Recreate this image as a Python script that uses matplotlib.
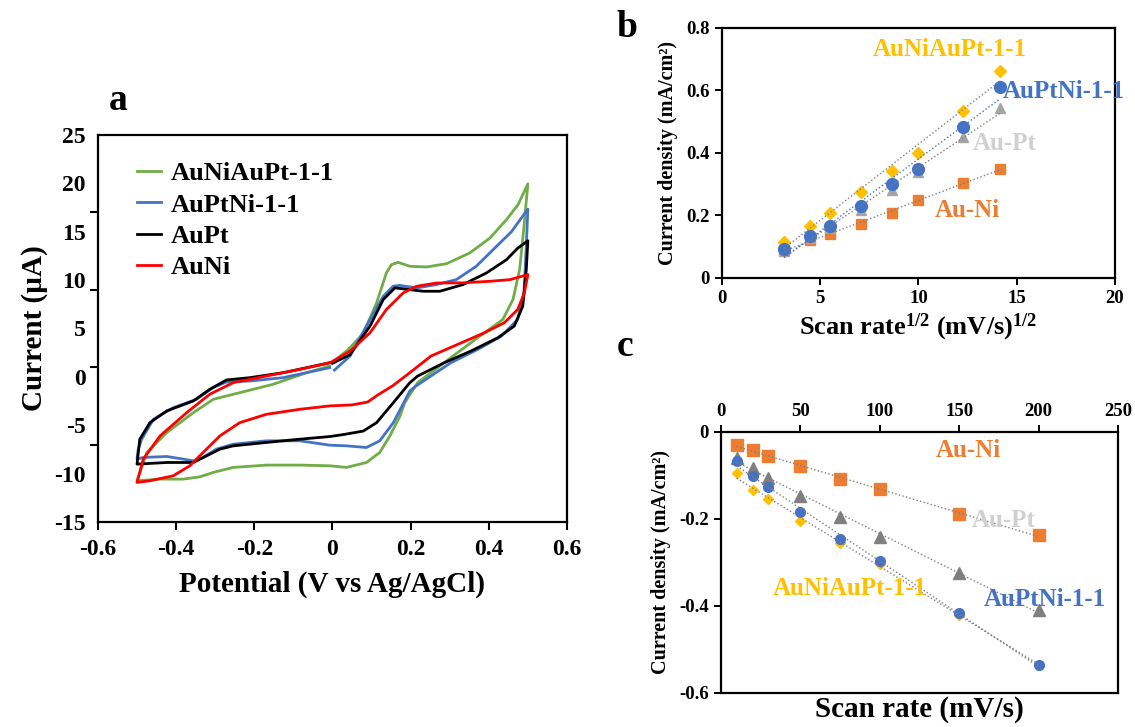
import numpy as np
import matplotlib
matplotlib.use('Agg')
import matplotlib.pyplot as plt

plt.rcParams['font.family'] = ['Liberation Serif', 'DejaVu Serif']
plt.rcParams['font.weight'] = 'bold'
plt.rcParams['axes.labelweight'] = 'bold'
plt.rcParams['axes.unicode_minus'] = False
plt.rcParams['mathtext.fontset'] = 'custom'
plt.rcParams['mathtext.rm'] = 'Liberation Serif:bold'
plt.rcParams['mathtext.bf'] = 'Liberation Serif:bold'
plt.rcParams['mathtext.default'] = 'bf'

# ---- panel a: cyclic voltammograms (V vs Ag/AgCl, uA) ----
green_E = [0.0, 0.04, 0.079, 0.113, 0.138, 0.151, 0.168, 0.198, 0.241, 0.292, 0.351, 0.403, 0.445, 0.475, 0.5,
           0.49, 0.479, 0.462, 0.436, 0.389, 0.32, 0.252, 0.218, 0.185, 0.173, 0.147, 0.121, 0.087, 0.036, -0.007,
           -0.083, -0.169, -0.254, -0.305, -0.339, -0.382, -0.441, -0.5,
           -0.475, -0.424, -0.356, -0.305, -0.237, -0.152, -0.066, -0.007]
green_I = [1.5, 2.8, 4.5, 7.65, 10.74, 11.6, 11.84, 11.43, 11.36, 11.7, 12.8, 14.35, 16.24, 17.8, 19.95,
           15.5, 11.1, 8.0, 5.93, 4.56, 2.5, 0.43, -0.6, -2.66, -4.04, -6.1, -7.82, -8.85, -9.36, -9.19,
           -9.12, -9.12, -9.36, -9.88, -10.33, -10.57, -10.57, -10.74,
           -7.82, -5.76, -3.7, -2.32, -1.63, -0.77, 0.43, 1.12]

blue_E = [0.005, 0.045, 0.096, 0.13, 0.155, 0.172, 0.215, 0.266, 0.317, 0.368, 0.42, 0.458, 0.474, 0.5,
          0.496, 0.49, 0.474, 0.432, 0.372, 0.303, 0.214, 0.198, 0.156, 0.121, 0.087, 0.036, -0.007,
          -0.083, -0.169, -0.254, -0.297, -0.331, -0.356, -0.382, -0.424, -0.484, -0.5,
          -0.497, -0.488, -0.458, -0.407, -0.348, -0.305, -0.271, -0.211, -0.126, -0.007]
blue_I = [0.7, 2.15, 5.93, 8.33, 9.36, 9.46, 9.19, 9.54, 10.05, 11.43, 13.5, 15.0, 15.9, 17.34,
          13.5, 8.68, 5.93, 4.2, 2.84, 1.46, -0.94, -1.46, -4.73, -6.61, -7.3, -7.13, -7.06,
          -6.61, -6.61, -6.96, -7.47, -8.33, -8.68, -8.5, -8.23, -8.33, -8.5,
          -7.5, -6.44, -4.38, -3.18, -2.32, -1.1, -0.53, -0.43, -0.08, 0.95]

black_E = [0.0, 0.045, 0.096, 0.13, 0.16, 0.181, 0.232, 0.275, 0.334, 0.394, 0.445, 0.474, 0.5,
           0.496, 0.487, 0.465, 0.423, 0.354, 0.286, 0.218, 0.198, 0.156, 0.113, 0.079, 0.03, -0.007,
           -0.083, -0.169, -0.254, -0.288, -0.322, -0.356, -0.424, -0.5,
           -0.493, -0.467, -0.424, -0.356, -0.314, -0.271, -0.211, -0.126, -0.007]
black_I = [1.4, 2.3, 5.24, 7.99, 9.2, 9.1, 8.85, 8.85, 9.54, 10.74, 12.1, 13.3, 14.07,
           11.1, 7.3, 5.24, 4.04, 2.66, 1.46, 0.08, -0.6, -2.66, -4.73, -5.6, -5.95, -6.17,
           -6.44, -6.78, -7.13, -7.47, -8.16, -8.85, -8.85, -9.02,
           -6.44, -4.73, -3.52, -2.49, -1.29, -0.32, -0.08, 0.43, 1.46]

red_E = [0.0, 0.045, 0.096, 0.138, 0.181, 0.215, 0.266, 0.334, 0.403, 0.454, 0.5,
         0.491, 0.474, 0.44, 0.389, 0.32, 0.252, 0.198, 0.155, 0.115, 0.09, 0.05, -0.007,
         -0.083, -0.169, -0.237, -0.288, -0.331, -0.365, -0.407, -0.467, -0.5,
         -0.484, -0.441, -0.373, -0.314, -0.254, -0.169, -0.083, -0.007]
red_I = [1.6, 2.66, 4.55, 6.96, 8.68, 9.36, 9.7, 9.72, 9.88, 10.05, 10.57,
         8.68, 6.96, 5.6, 4.56, 3.35, 2.15, 0.43, -0.9, -1.9, -2.6, -2.9, -3.0,
         -3.35, -3.87, -4.73, -6.1, -7.82, -9.19, -10.22, -10.74, -10.91,
         -8.5, -6.1, -3.7, -1.8, -0.6, 0.09, 0.77, 1.46]

cv_labels = ['AuNiAuPt-1-1', 'AuPtNi-1-1', 'AuPt', 'AuNi']
cv_colors = ['#70AD47', '#4472C4', 'black', '#FF0000']

a_xticks = [-0.6, -0.4, -0.2, 0, 0.2, 0.4, 0.6]
a_xticklabels = ['-0.6', '-0.4', '-0.2', '0', '0.2', '0.4', '0.6']
a_yticks = [25, 20, 15, 10, 5, 0, -5, -10, -15]
a_yticklabels = ['25', '20', '15', '10', '5', '0', '-5', '-10', '-15']
a_ytickmarks = [25, 17, 9, 1, -7, -15]

# ---- panels b and c: scan rate study ----
scan_rate = [10, 20, 30, 50, 75, 100, 150, 200]
names = ['AuNiAuPt-1-1', 'AuPtNi-1-1', 'Au-Pt', 'Au-Ni']
anodic = {
    'AuNiAuPt-1-1': [0.115, 0.167, 0.206, 0.273, 0.341, 0.400, 0.535, 0.661],
    'AuPtNi-1-1': [0.091, 0.133, 0.166, 0.230, 0.299, 0.348, 0.481, 0.609],
    'Au-Pt': [0.085, 0.128, 0.160, 0.218, 0.281, 0.337, 0.451, 0.544],
    'Au-Ni': [0.089, 0.121, 0.139, 0.171, 0.208, 0.249, 0.303, 0.348],
}
cathodic = {
    'AuNiAuPt-1-1': [-0.096, -0.134, -0.154, -0.205, -0.255, -0.304, -0.420, -0.535],
    'AuPtNi-1-1': [-0.067, -0.101, -0.128, -0.185, -0.246, -0.297, -0.417, -0.535],
    'Au-Pt': [-0.060, -0.084, -0.107, -0.148, -0.195, -0.242, -0.325, -0.409],
    'Au-Ni': [-0.031, -0.042, -0.056, -0.079, -0.109, -0.132, -0.189, -0.237],
}
markers = {'AuNiAuPt-1-1': 'D', 'AuPtNi-1-1': 'o', 'Au-Pt': '^', 'Au-Ni': 's'}
mcolors_b = {'AuNiAuPt-1-1': '#FFC000', 'AuPtNi-1-1': '#4472C4', 'Au-Pt': '#A5A5A5', 'Au-Ni': '#ED7D31'}
mcolors_c = {'AuNiAuPt-1-1': '#FFC000', 'AuPtNi-1-1': '#4472C4', 'Au-Pt': '#7F7F7F', 'Au-Ni': '#ED7D31'}
msize_b = {'AuNiAuPt-1-1': 6.5, 'AuPtNi-1-1': 8.5, 'Au-Pt': 7.5, 'Au-Ni': 7}
msize_c = {'AuNiAuPt-1-1': 5.5, 'AuPtNi-1-1': 7, 'Au-Pt': 9, 'Au-Ni': 8.5}
text_colors = {'AuNiAuPt-1-1': '#FFC000', 'AuPtNi-1-1': '#4472C4', 'Au-Pt': '#D0D0D0', 'Au-Ni': '#ED7D31'}
b_text_pos = {'AuNiAuPt-1-1': (11.6, 0.73), 'AuPtNi-1-1': (17.4, 0.595), 'Au-Pt': (14.4, 0.43), 'Au-Ni': (12.5, 0.215)}
c_text_pos = {'AuNiAuPt-1-1': (81, -0.359), 'AuPtNi-1-1': (204, -0.386), 'Au-Pt': (178, -0.205), 'Au-Ni': (156, -0.044)}

fig = plt.figure(figsize=(11.35, 7.27), dpi=100)

# ---------------- panel a ----------------
ax = fig.add_axes([0.0863, 0.282, 0.4132, 0.5323])
for E, I, lab, col in zip([green_E, blue_E, black_E, red_E], [green_I, blue_I, black_I, red_I],
                          cv_labels, cv_colors):
    ax.plot(E, I, color=col, lw=2.0, label=lab, solid_joinstyle='round')
ax.set_xlim(-0.6, 0.6)
ax.set_ylim(-15, 25)
ax.set_xticks(a_xticks, a_xticklabels)
ax.set_yticks(a_yticks, a_yticklabels)
ax.set_yticks(a_ytickmarks, minor=True)
ax.tick_params(axis='y', which='major', length=0, pad=9)
ax.tick_params(axis='y', which='minor', direction='out', length=6, width=1.5)
ax.tick_params(axis='x', direction='out', length=6, width=1.5, pad=6)
ax.tick_params(labelsize=17)
for s in ax.spines.values():
    s.set_linewidth(1.6)
ax.set_xlabel('Potential (V vs Ag/AgCl)', fontsize=21, labelpad=8)
ax.set_ylabel('Current (µA)', fontsize=21, labelpad=4)
ax.legend(loc='upper left', bbox_to_anchor=(0.055, 0.965), frameon=False, fontsize=19,
          handlelength=0.9, handletextpad=0.4, labelspacing=0.3, borderpad=0)

# ---------------- panel b ----------------
bx = fig.add_axes([0.636, 0.618, 0.3463, 0.3439])
sq = np.sqrt(scan_rate)
for n in ['Au-Ni', 'Au-Pt', 'AuNiAuPt-1-1', 'AuPtNi-1-1']:
    k, c0 = np.polyfit(sq, anodic[n], 1)
    lc = '#4472C4' if n == 'AuPtNi-1-1' else '#7F7F7F'
    bx.plot([sq[0], sq[-1]], [k * sq[0] + c0, k * sq[-1] + c0], ls=':', color=lc, lw=1.0, zorder=3)
    bx.plot(sq, anodic[n], ls='none', marker=markers[n], ms=msize_b[n], color=mcolors_b[n], zorder=2)
for n in names:
    bx.text(*b_text_pos[n], n, color=text_colors[n], fontsize=18, ha='center', va='center')
bx.set_xlim(0, 20)
bx.set_ylim(0, 0.8)
bx.set_xticks([0, 5, 10, 15, 20])
bx.set_yticks([0, 0.2, 0.4, 0.6, 0.8], ['0', '0.2', '0.4', '0.6', '0.8'])
bx.tick_params(direction='out', length=5, width=1.4, labelsize=13.5)
for s in bx.spines.values():
    s.set_linewidth(1.6)
bx.set_xlabel('Scan rate$^{1/2}$ (mV/s)$^{1/2}$', fontsize=19, labelpad=4)
bx.set_ylabel('Current density (mA/cm²)', fontsize=14.5, labelpad=6)

# ---------------- panel c ----------------
cx = fig.add_axes([0.635, 0.0468, 0.350, 0.3594])
for n in ['Au-Ni', 'Au-Pt', 'AuNiAuPt-1-1', 'AuPtNi-1-1']:
    k, c0 = np.polyfit(scan_rate, cathodic[n], 1)
    x0, x1 = scan_rate[0], scan_rate[-1]
    cx.plot([x0, x1], [k * x0 + c0, k * x1 + c0], ls=':', color='#7F7F7F', lw=1.0, zorder=3)
    cx.plot(scan_rate, cathodic[n], ls='none', marker=markers[n], ms=msize_c[n], color=mcolors_c[n], zorder=2)
for n in names:
    cx.text(*c_text_pos[n], n, color=text_colors[n], fontsize=18, ha='center', va='center', zorder=4)
cx.set_xlim(0, 250)
cx.set_ylim(-0.6, 0)
cx.xaxis.tick_top()
cx.set_xticks([0, 50, 100, 150, 200, 250])
cx.set_yticks([0, -0.2, -0.4, -0.6], ['0', '-0.2', '-0.4', '-0.6'])
cx.tick_params(direction='out', length=5, width=1.4, labelsize=13.5)
for s in cx.spines.values():
    s.set_linewidth(1.6)
cx.xaxis.set_label_position('bottom')
cx.set_xlabel('Scan rate (mV/s)', fontsize=21, labelpad=2)
cx.set_ylabel('Current density (mA/cm²)', fontsize=14.5, labelpad=6)

fig.text(0.104, 0.862, 'a', fontsize=27, ha='center', va='center')
fig.text(0.552, 0.962, 'b', fontsize=27, ha='center', va='center')
fig.text(0.551, 0.524, 'c', fontsize=27, ha='center', va='center')

fig.savefig('out.png', dpi=100)
